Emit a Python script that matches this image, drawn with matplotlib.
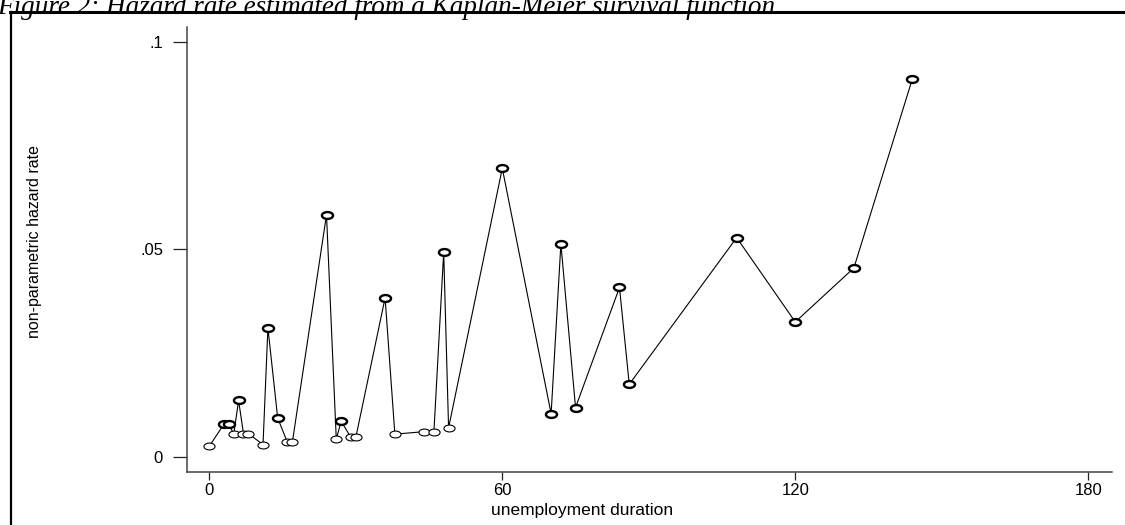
import matplotlib
matplotlib.use("Agg")
import matplotlib.pyplot as plt
from matplotlib.path import Path
import numpy as np

# unemployment duration (months) and the estimated hazard rate
duration = [0, 3, 4, 5, 6, 7, 8, 11, 12, 14, 16, 17, 24, 26, 27, 29, 30, 36, 38,
            44, 46, 48, 49, 60, 70, 72, 75, 84, 86, 108, 120, 132, 144]
hazard = [0.0026, 0.0079, 0.0079, 0.0055, 0.0136, 0.0056, 0.0056, 0.0030, 0.0311,
          0.0094, 0.0035, 0.0035, 0.0583, 0.0043, 0.0086, 0.0047, 0.0047, 0.0383,
          0.0055, 0.0061, 0.0061, 0.0493, 0.0070, 0.0695, 0.0104, 0.0513, 0.0119,
          0.0408, 0.0175, 0.0528, 0.0325, 0.0455, 0.0911]

xticks = [0, 60, 120, 180]
yticks = [0, 0.05, 0.1]
ytick_labels = ["0", ".05", ".1"]

title = "Figure 2: Hazard rate estimated from a Kaplan-Meier survival function"

W, H = 1125, 525
fig = plt.figure(figsize=(W / 100, H / 100), dpi=100)

# frame around the figure (left and top visible)
fig.add_artist(plt.Line2D([11 / W, 11 / W], [0, 1 - 12 / H], color="black", lw=1.6,
                          transform=fig.transFigure))
fig.add_artist(plt.Line2D([10 / W, 1124 / W], [1 - 12 / H, 1 - 12 / H], color="black",
                          lw=2.2, transform=fig.transFigure))

fig.text(-3 / W, 1 - 14 / H, title, family="Liberation Serif", style="italic",
         fontsize=19.5, va="baseline", ha="left")

ax = fig.add_axes([186.7 / W, 1 - 471.7 / H, 925 / W, 444.7 / H])

# ellipse marker
circ = Path.unit_circle()
ell = Path(circ.vertices * np.array([1.0, 0.62]), circ.codes)

x = np.array(duration)
y = np.array(hazard)
ax.plot(x, y, color="black", lw=0.8, zorder=2)
bold = y > 0.0075
ax.plot(x[~bold], y[~bold], ls="none", marker=ell, ms=8, mfc="white", mec="black",
        mew=0.8, zorder=3)
ax.plot(x[bold], y[bold], ls="none", marker=ell, ms=8, mfc="white", mec="black",
        mew=1.7, zorder=3)

ax.set_xlim(-4.63, 184.8)
ax.set_ylim(-0.00354, 0.1035)
ax.set_xticks(xticks)
ax.set_xticklabels([str(t) for t in xticks])
ax.set_yticks(yticks)
ax.set_yticklabels(ytick_labels)

for s in ["top", "right"]:
    ax.spines[s].set_visible(False)
for s in ["left", "bottom"]:
    ax.spines[s].set_color("#444444")
    ax.spines[s].set_linewidth(1.1)

ax.tick_params(axis="y", length=10, width=0.9, pad=7, color="#222222",
               labelsize=12, direction="out")
ax.tick_params(axis="x", length=5.5, width=0.9, pad=2.5, color="#222222",
               labelsize=12, direction="out")
for lab in ax.get_xticklabels() + ax.get_yticklabels():
    lab.set_family("Liberation Sans")

fig.text(582 / W, 1 - 510 / H, "unemployment duration", family="Liberation Sans",
         fontsize=12.5, ha="center", va="center")
fig.text(35 / W, 1 - 242 / H, "non-parametric hazard rate",
         family="Liberation Sans", fontsize=11.5,
         rotation=90, ha="center", va="center")

fig.savefig("out.png", dpi=100)
